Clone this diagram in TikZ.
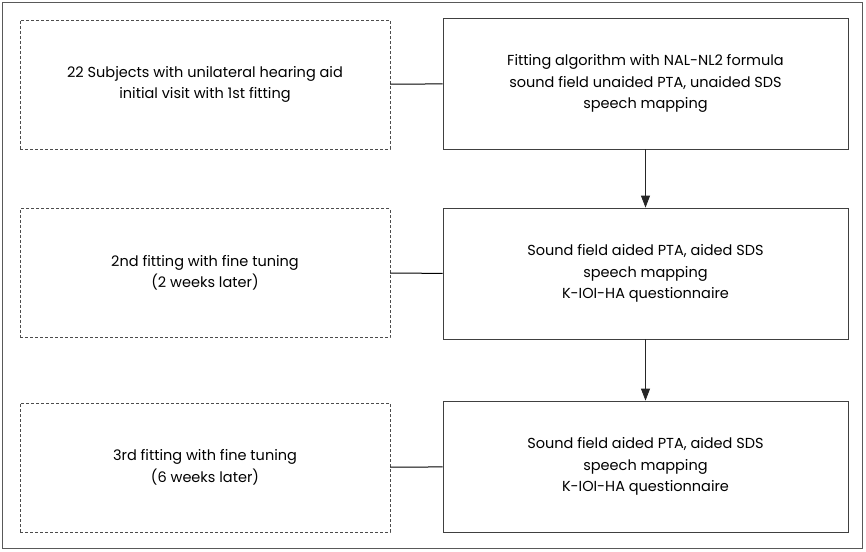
\documentclass[tikz,border=0pt]{standalone}
\usepackage{fontspec}
\setmainfont{Poppins}
\usetikzlibrary{arrows.meta}

\tikzset{
    stage/.style={draw=black!70, dash pattern=on 3pt off 2pt, minimum width=370pt,
        minimum height=129pt, align=center, inner sep=0pt, font=\fontsize{14.5}{21.5}\selectfont},
    task/.style={draw=black!75, line width=0.8pt, minimum width=405pt,
        minimum height=131pt, align=center, inner sep=0pt, font=\fontsize{14.5}{21.5}\selectfont},
    link/.style={draw=black, line width=1pt},
    flow/.style={draw=black!85, line width=0.8pt, -{Triangle[length=12pt,width=9pt]}}
}

\begin{document}
\begin{tikzpicture}[x=1pt,y=-1pt]
    \useasboundingbox (0,0) rectangle (866,551);
    \draw[black!65, line width=0.8pt] (2.5,2.5) rectangle (862.5,548.5);

    \node[stage] (visit1) at (205,84.5) {22 Subjects with unilateral hearing aid\\initial visit with 1st fitting};
    \node[stage] (visit2) at (205,273) {2nd fitting with fine tuning\\(2 weeks later)};
    \node[stage] (visit3) at (205,467.5) {3rd fitting with fine tuning\\(6 weeks later)};

    \node[task] (test1) at (645.5,83.5) {Fitting algorithm with NAL-NL2 formula\\sound field unaided PTA, unaided SDS\\speech mapping};
    \node[task] (test2) at (645.5,273.5) {Sound field aided PTA, aided SDS\\speech mapping\\K-IOI-HA questionnaire};
    \node[task] (test3) at (645.5,466.5) {Sound field aided PTA, aided SDS\\speech mapping\\K-IOI-HA questionnaire};

    \draw[link] (visit1) -- (test1);
    \draw[link] (visit2) -- (test2);
    \draw[link] (visit3) -- (test3);

    \draw[flow] (test1) -- (test2);
    \draw[flow] (test2) -- (test3);
\end{tikzpicture}
\end{document}
